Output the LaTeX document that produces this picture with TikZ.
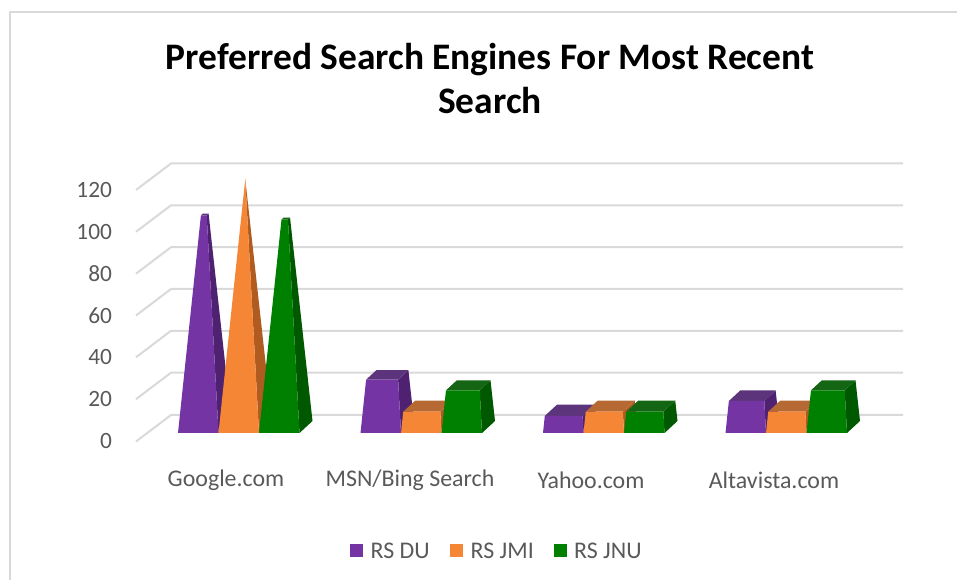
\documentclass[tikz,border=0pt]{standalone}
\usepackage{fontspec}
\setmainfont{Carlito}
\usetikzlibrary{calc,positioning}
\definecolor{rspurple}{HTML}{7534A4}
\definecolor{rspurpled}{HTML}{4E2271}
\definecolor{rsorange}{HTML}{F58636}
\definecolor{rsoranged}{HTML}{B05C21}
\definecolor{rsgreen}{HTML}{008000}
\definecolor{rsgreend}{HTML}{005800}
\definecolor{gridgray}{HTML}{D9D9D9}
\definecolor{labgray}{HTML}{595959}
\tikzset{
  % light lines of the chart area
  chartframe/.style={draw=gridgray, line width=0.04cm},
  gridline/.style={draw=gridgray, line width=0.04cm},
  ylab/.style={anchor=east, inner sep=0pt, xshift=-0.46cm, text=labgray,
  font=\fontsize{13.3}{15}\selectfont},
  xlab/.style={inner sep=0pt, text=labgray, font=\fontsize{13.6}{15}\selectfont},
  key/.style={rectangle, minimum size=0.26cm, inner sep=0pt},
  legtext/.style={right, inner sep=0pt, xshift=0.14cm, text=labgray,
  font=\fontsize{13.6}{15}\selectfont}}
% one pyramid bar: x of its front left corner, value, face colour, shade colour
\newcommand{\pyrbar}[4]{
  \coordinate (fl) at (#1,433);
  \coordinate (fr) at (#1+40.5,433);
  \coordinate (br) at (#1+53.5,421);
  \coordinate (bl) at (#1+13,421);
  \coordinate (ap) at (#1+26.75,179);
  \coordinate (flt) at ($(fl)!#2/119!(ap)$);
  \coordinate (frt) at ($(fr)!#2/119!(ap)$);
  \coordinate (brt) at ($(br)!#2/119!(ap)$);
  \coordinate (blt) at ($(bl)!#2/119!(ap)$);
  \fill [#4] (fr) -- (br) -- (brt) -- (frt) -- cycle;
  \fill [#4!92!white] (flt) -- (frt) -- (brt) -- (blt) -- cycle;
  \fill [#3] (fl) -- (fr) -- (frt) -- (flt) -- cycle;
}
\begin{document}
\begin{tikzpicture}[x=0.02cm, y=-0.02cm]
\useasboundingbox (0,0) rectangle (957,580);

\draw [chartframe] (10,580) -- (10,12) -- (957,12);

\draw (490,114) node (title) [anchor=base, align=center, font=\fontsize{21.3}{25.2}\bfseries] {Preferred Search Engines For Most Recent\\Search};

% grid with its scale
\draw [gridline] (136,441.5) node (l0) [ylab] {0} -- (171,415) -- (903,415);
\draw [gridline] (136,399.2) node (l20) [ylab] {20} -- (171,372.7) -- (903,372.7);
\draw [gridline] (136,357.3) node (l40) [ylab] {40} -- (171,330.8) -- (903,330.8);
\draw [gridline] (136,315.5) node (l60) [ylab] {60} -- (171,289) -- (903,289);
\draw [gridline] (136,273.7) node (l80) [ylab] {80} -- (171,247.2) -- (903,247.2);
\draw [gridline] (136,231.8) node (l100) [ylab] {100} -- (171,205.3) -- (903,205.3);
\draw [gridline] (136,190) node (l120) [ylab] {120} -- (171,163.5) -- (903,163.5);

% Google.com
\pyrbar{178}{102}{rspurple}{rspurpled}
\pyrbar{218.5}{119}{rsorange}{rsoranged}
\pyrbar{259}{100}{rsgreen}{rsgreend}
% MSN/Bing Search
\pyrbar{360.5}{25}{rspurple}{rspurpled}
\pyrbar{401}{10}{rsorange}{rsoranged}
\pyrbar{441.5}{20}{rsgreen}{rsgreend}
% Yahoo.com
\pyrbar{543}{8}{rspurple}{rspurpled}
\pyrbar{583.5}{10}{rsorange}{rsoranged}
\pyrbar{624}{10}{rsgreen}{rsgreend}
% Altavista.com
\pyrbar{725.5}{15}{rspurple}{rspurpled}
\pyrbar{766}{10}{rsorange}{rsoranged}
\pyrbar{806.5}{20}{rsgreen}{rsgreend}

\draw (226,480) node (cgoogle) [xlab] {Google.com};
\draw (410,480) node (cmsn) [xlab] {MSN/Bing Search};
\draw (591,480) node (cyahoo) [xlab] {Yahoo.com};
\draw (774,480) node (calta) [xlab] {Altavista.com};

% legend
\draw (356.5,550.5) node (kdu) [key, fill=rspurple] {};
\draw (kdu.east) node (tdu) [legtext] {RS DU};
\draw (456.5,550.5) node (kjmi) [key, fill=rsorange] {};
\draw (kjmi.east) node (tjmi) [legtext] {RS JMI};
\draw (560,550.5) node (kjnu) [key, fill=rsgreen] {};
\draw (kjnu.east) node (tjnu) [legtext] {RS JNU};

\end{tikzpicture}
\end{document}
